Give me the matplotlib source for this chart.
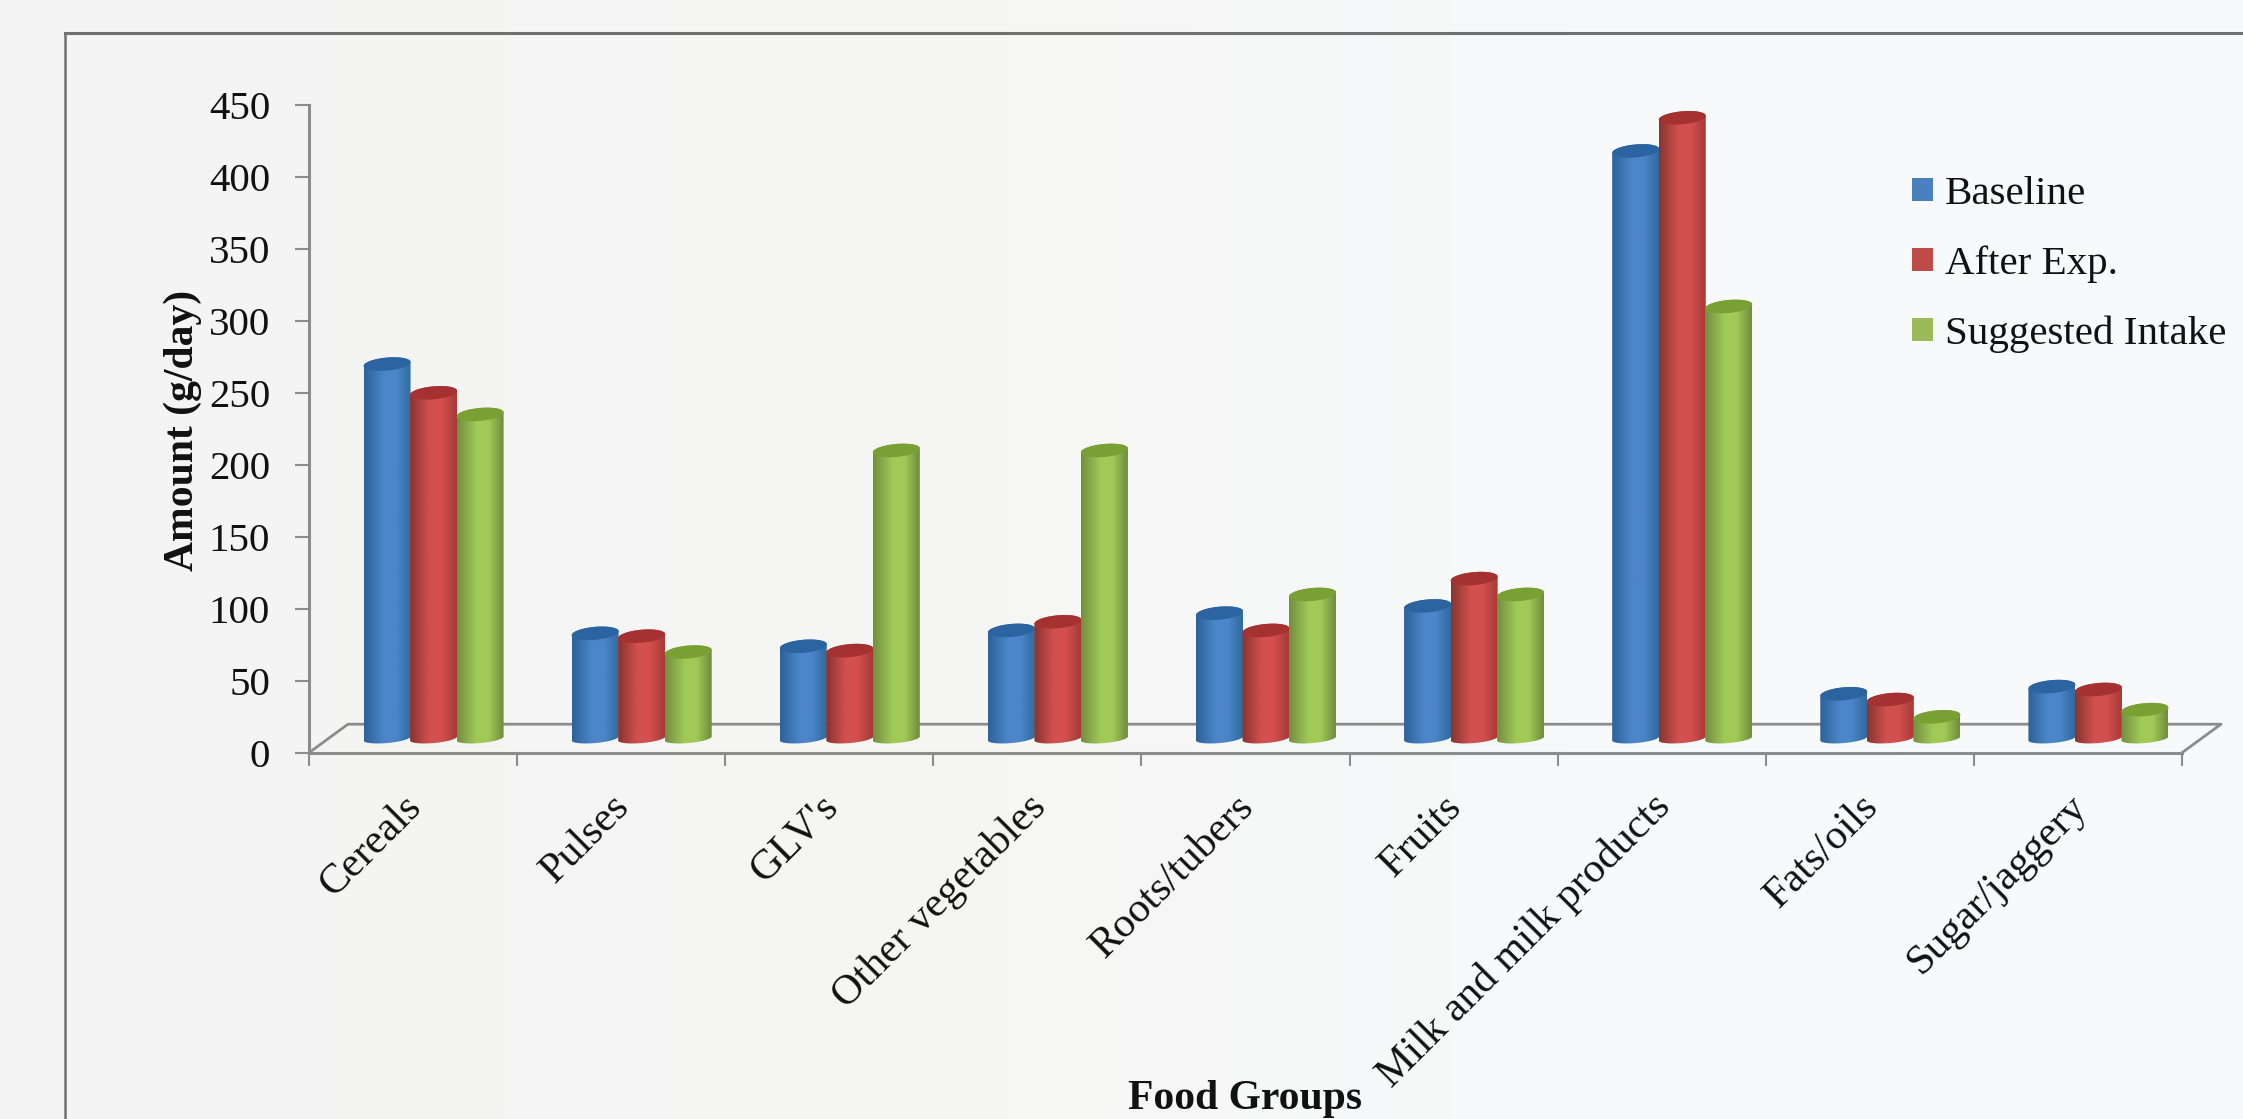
import numpy as np
import matplotlib
matplotlib.use("Agg")
import matplotlib.pyplot as plt
from matplotlib.lines import Line2D
from matplotlib.patches import Patch, Polygon
from matplotlib.colors import to_rgb

plt.rcParams["font.family"] = ["Liberation Serif", "DejaVu Serif"]

categories = ["Cereals", "Pulses", "GLV's", "Other vegetables", "Roots/tubers",
              "Fruits", "Milk and milk products", "Fats/oils", "Sugar/jaggery"]
baseline = [260, 73, 64, 75, 87, 92, 408, 31, 36]
after_exp = [240, 71, 61, 81, 75, 111, 431, 27, 34]
suggested = [225, 60, 200, 200, 100, 100, 300, 15, 20]
y_ticks = [0, 50, 100, 150, 200, 250, 300, 350, 400, 450]
series_names = ["Baseline", "After Exp.", "Suggested Intake"]

# colour stops across a cylinder: left edge, highlight, right edge, cap, legend
shades = [
    ("#2e6298", "#4b86c8", "#2f699f", "#2b64a0", "#4a7fc0"),
    ("#8a3431", "#d2504f", "#a63a36", "#a53230", "#bf4b48"),
    ("#738f3e", "#a1c956", "#6f8c40", "#78a032", "#9bbb59"),
]

W, H = 2243, 1119
fig = plt.figure(figsize=(W / 100, H / 100), dpi=100)

# soft page tint running from warm grey to cool white
bg = fig.add_axes([0, 0, 1, 1], zorder=-1)
tint_pos = [0, 0.45, 0.7, 1]
tint_cols = np.array([to_rgb(c) for c in ("#f3f4f3", "#f6f6f5", "#f7f9fa", "#f7fafc")])
xs = np.linspace(0, 1, 256)
page = np.stack([np.interp(xs, tint_pos, tint_cols[:, c]) for c in range(3)], axis=1)[None, :, :]
bg.imshow(page, aspect="auto", extent=(0, 1, 0, 1))
bg.axis("off")

frame_c = "#707070"
fig.add_artist(Line2D([65 / W, 65 / W], [0, 1 - 33 / H], color=frame_c, lw=1.8))
fig.add_artist(Line2D([65 / W, 1], [1 - 33 / H, 1 - 33 / H], color=frame_c, lw=2.2))

ax = fig.add_axes([309 / W, 1 - 752.7 / H, (2182 - 309) / W, (752.7 - 104.7) / H])
ax.patch.set_alpha(0)
n = len(categories)
ax.set_xlim(0, n)
ax.set_ylim(0, 450)

units_x = (2182 - 309) / n           # pixels per category
units_y = (752.7 - 104.7) / 450      # pixels per g/day

# floor of the 3D box, sheared back from the axis line
depth_x, depth_y = 39 / units_x, 28.5 / units_y
axis_c = "#8c8c8c"
ax.plot([0, depth_x, n + depth_x, n], [0, depth_y, depth_y, 0],
        color=axis_c, lw=2.0, clip_on=False, zorder=1)

bar_w = 47 / units_x
mid_x = depth_x / 2 + 1 / units_x
mid_y = depth_y / 2
cap_h = 6.5 / units_y
foot_h = 4.6 / units_y
tilt = 2 / units_y


def cylinder_outline(cx, top):
    """Outline of a tilted cylinder from the floor up to the given height."""
    t_low = np.linspace(np.pi, 2 * np.pi, 40)
    t_up = np.linspace(0, np.pi, 40)
    r = bar_w / 2
    low = np.c_[cx + r * np.cos(t_low), mid_y + foot_h * np.sin(t_low) + tilt * np.cos(t_low)]
    up = np.c_[cx + r * np.cos(t_up), top + cap_h * np.sin(t_up) + tilt * np.cos(t_up)]
    return np.vstack([low, up])


def cap_outline(cx, top):
    t = np.linspace(0, 2 * np.pi, 80)
    r = bar_w / 2
    return np.c_[cx + r * np.cos(t), top + cap_h * np.sin(t) + tilt * np.cos(t)]


for s, values in enumerate([baseline, after_exp, suggested]):
    left, light, right, cap, _ = shades[s]
    u = np.linspace(0, 1, 64)
    stops = np.array([to_rgb(left), to_rgb(light), to_rgb(light), to_rgb(right)])
    pos = [0, 0.42, 0.68, 1]
    grad = np.stack([np.interp(u, pos, stops[:, c]) for c in range(3)], axis=1)[None, :, :]
    for i, v in enumerate(values):
        cx = i + 0.5 + mid_x + (s - 1) * bar_w * 0.99
        top = v + mid_y
        body = Polygon(cylinder_outline(cx, top), closed=True, transform=ax.transData,
                       fc="none", ec="none")
        ax.add_patch(body)
        im = ax.imshow(grad, aspect="auto", interpolation="bilinear",
                       extent=(cx - bar_w / 2, cx + bar_w / 2, 0, top + 2 * cap_h),
                       zorder=3 + s + i * 0.01)
        im.set_clip_path(body)
        ax.add_patch(Polygon(cap_outline(cx, top), closed=True, fc=cap, ec="none",
                             zorder=3 + s + i * 0.01 + 0.005))

ax.set_xlim(0, n)
ax.set_ylim(0, 450)

for side in ("top", "right"):
    ax.spines[side].set_visible(False)
for side in ("left", "bottom"):
    ax.spines[side].set_color(axis_c)
    ax.spines[side].set_linewidth(2.2)

ax.set_yticks(y_ticks)
ax.tick_params(axis="y", length=10, width=1.5, color=axis_c, pad=18, labelsize=29.5,
               labelcolor="#111111")
ax.set_xticks(np.arange(n + 1))
ax.tick_params(axis="x", which="major", length=9, width=1.5, color=axis_c, labelbottom=False)

# category names hang from the category centres, slanted upward to the right
label_shift = 11 / units_x
ax.set_xticks(np.arange(n) + 0.5 - label_shift, categories, minor=True)
ax.tick_params(axis="x", which="minor", length=0, pad=25, labelsize=30.3,
               labelcolor="#111111")
for lab in ax.get_xticklabels(minor=True):
    lab.set_rotation(45)
    lab.set_rotation_mode("anchor")
    lab.set_ha("right")
    lab.set_va("top")

fig.text(1245 / W, 1 - 1109 / H, "Food Groups", fontsize=30, fontweight="bold",
         ha="center", va="baseline", color="#111111")
fig.text(183 / W, 1 - 430 / H, "Amount (g/day)", fontsize=30, fontweight="bold",
         rotation=90, ha="center", va="center", color="#111111")

handles = [Patch(fc=shades[k][4], ec="none") for k in range(3)]
fig.legend(handles, series_names, loc="upper left",
           bbox_to_anchor=(1912 / W, 1 - 176 / H), bbox_transform=fig.transFigure,
           frameon=False, fontsize=29.5, handlelength=0.51, handleheight=0.49,
           handletextpad=0.29, labelspacing=0.79, borderpad=0, borderaxespad=0,
           labelcolor="#111111")

fig.savefig("out.png", dpi=100)
